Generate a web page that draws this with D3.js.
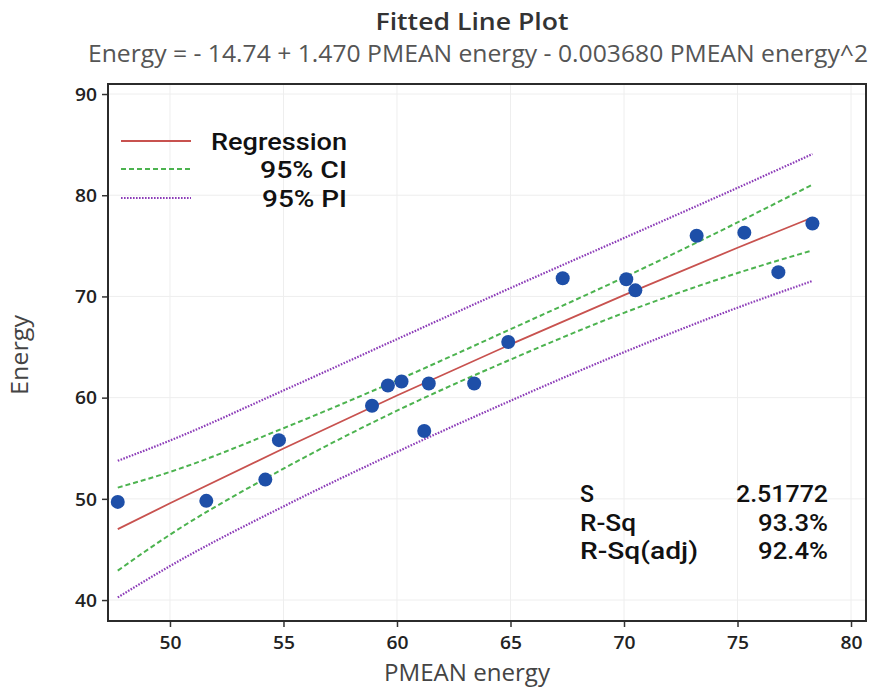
<!DOCTYPE html>
<html><head><meta charset="utf-8">
<script src="https://cdn.jsdelivr.net/npm/d3@7"></script>
<style>body{margin:0;background:#fff}svg{display:block}text{font-family:"Open Sans","Noto Sans",sans-serif}</style>
</head><body>
<svg id="c" width="879" height="690"></svg>
<script>
// Observations
const pmean  = [47.7, 51.6, 54.2, 54.8, 58.9, 59.6, 60.2, 61.2, 61.4, 63.4, 64.9, 67.3, 70.1, 70.5, 73.2, 75.3, 76.8, 78.3];
const energy = [49.7, 49.8, 51.9, 55.8, 59.2, 61.2, 61.6, 56.7, 61.4, 61.4, 65.5, 71.8, 71.7, 70.6, 76.0, 76.3, 72.4, 77.2];
// Fitted curve and bands read at these x positions
const curveX = [47.7, 50, 55, 60, 65, 70, 75, 78.3];
const fitY   = [47.01, 49.56, 54.98, 60.21, 65.26, 70.13, 74.81, 77.80];
const ciLow  = [42.91, 46.46, 52.98, 58.71, 63.76, 68.38, 72.31, 74.55];
const ciHigh = [51.11, 52.66, 56.98, 61.71, 66.76, 71.88, 77.31, 81.05];
const piLow  = [40.26, 43.36, 49.25, 54.64, 59.69, 64.49, 68.89, 71.53];
const piHigh = [53.76, 55.76, 60.71, 65.78, 70.83, 75.77, 80.73, 84.07];
const xTicks = [50, 55, 60, 65, 70, 75, 80];
const yTicks = [40, 50, 60, 70, 80, 90];
const legendLabels = ["Regression", "95% CI", "95% PI"];
const statNames  = ["S", "R-Sq", "R-Sq(adj)"];
const statValues = ["2.51772", "93.3%", "92.4%"];
const title = "Fitted Line Plot";
const subtitle = "Energy = - 14.74 + 1.470 PMEAN energy - 0.003680 PMEAN energy^2";

const svg = d3.select("#c");
const L = 108, R = 866, T = 84, B = 621;
const x = d3.scaleLinear().domain([47.27, 80.66]).range([L, R]);
const y = d3.scaleLinear().domain([37.93, 90.99]).range([B, T]);

// gridlines
svg.append("g").selectAll("line").data(xTicks).join("line")
  .attr("x1", d => x(d)).attr("x2", d => x(d)).attr("y1", T).attr("y2", B)
  .attr("stroke", "#eeeeee").attr("stroke-width", 1);
svg.append("g").selectAll("line").data(yTicks).join("line")
  .attr("y1", d => y(d)).attr("y2", d => y(d)).attr("x1", L).attr("x2", R)
  .attr("stroke", "#eeeeee").attr("stroke-width", 1);

// axes
const xAxis = svg.append("g").attr("transform", `translate(0,${B})`)
  .call(d3.axisBottom(x).tickValues(xTicks).tickSize(6).tickPadding(9));
const yAxis = svg.append("g").attr("transform", `translate(${L},0)`)
  .call(d3.axisLeft(y).tickValues(yTicks).tickSize(6).tickPadding(5));
[xAxis, yAxis].forEach(g => {
  g.select(".domain").remove();
  g.selectAll(".tick line").attr("stroke", "#333").attr("stroke-width", 1.5);
  g.selectAll(".tick text").attr("fill", "#222").style("font-size", "18px").style("font-weight", 600)
    .attr("textLength", 22).attr("lengthAdjust", "spacingAndGlyphs");
});
xAxis.selectAll(".tick text").attr("dy", "0.71em");
yAxis.selectAll(".tick text").attr("dy", "0.35em");

// frame
svg.append("rect").attr("x", L).attr("y", T).attr("width", R - L).attr("height", B - T)
  .attr("fill", "none").attr("stroke", "#2b2b2b").attr("stroke-width", 2);

const line = arr => d3.line().x((d, i) => x(curveX[i])).y(d => y(d)).curve(d3.curveMonotoneX)(arr);
const styles = {
  pi: {stroke: "#8c3cb8", dash: "1.6,1.4", width: 2.2},
  ci: {stroke: "#4cb34f", dash: "5,3", width: 2},
  fit:{stroke: "#c8524f", dash: null, width: 1.8}
};
function drawPath(arr, s) {
  svg.append("path").attr("d", line(arr)).attr("fill", "none")
    .attr("stroke", s.stroke).attr("stroke-width", s.width)
    .attr("stroke-dasharray", s.dash);
}
drawPath(piLow, styles.pi); drawPath(piHigh, styles.pi);
drawPath(ciLow, styles.ci); drawPath(ciHigh, styles.ci);
drawPath(fitY, styles.fit);

// points
svg.append("g").selectAll("circle").data(pmean).join("circle")
  .attr("cx", d => x(d)).attr("cy", (d, i) => y(energy[i])).attr("r", 7)
  .attr("fill", "#1e4fa8");

// legend
const legStyles = [styles.fit, styles.ci, styles.pi];
const legY = [141, 169, 198];
const legW = [136, 87, 85];
legendLabels.forEach((lab, i) => {
  const s = legStyles[i];
  svg.append("line").attr("x1", 121).attr("x2", 191).attr("y1", legY[i]).attr("y2", legY[i])
    .attr("stroke", s.stroke).attr("stroke-width", s.width).attr("stroke-dasharray", s.dash);
  svg.append("text").attr("x", 347).attr("y", legY[i] + 9).attr("text-anchor", "end")
    .style("font-family", "Roboto, sans-serif").style("font-size", "24px").style("font-weight", 500)
    .attr("fill", "#111").attr("textLength", legW[i]).attr("lengthAdjust", "spacingAndGlyphs").text(lab);
});

// stats
const statY = [502, 531, 559];
const nameW = [14, 56, 118];
const valW = [92, 70, 70];
statNames.forEach((n, i) => {
  svg.append("text").attr("x", 580).attr("y", statY[i])
    .style("font-family", "Roboto, sans-serif").style("font-size", "23px").style("font-weight", 500)
    .attr("fill", "#111").attr("textLength", nameW[i]).attr("lengthAdjust", "spacingAndGlyphs").text(n);
  svg.append("text").attr("x", 828).attr("y", statY[i]).attr("text-anchor", "end")
    .style("font-family", "Roboto, sans-serif").style("font-size", "23px").style("font-weight", 500)
    .attr("fill", "#111").attr("textLength", valW[i]).attr("lengthAdjust", "spacingAndGlyphs").text(statValues[i]);
});

// titles
svg.append("text").attr("x", 472).attr("y", 30).attr("text-anchor", "middle")
  .style("font-size", "24px").style("font-weight", 600).attr("fill", "#333")
  .attr("textLength", 193).attr("lengthAdjust", "spacingAndGlyphs").text(title);
svg.append("text").attr("x", 478).attr("y", 62).attr("text-anchor", "middle")
  .style("font-size", "23px").attr("fill", "#555")
  .attr("textLength", 780).attr("lengthAdjust", "spacingAndGlyphs").text(subtitle);
svg.append("text").attr("x", 467).attr("y", 681).attr("text-anchor", "middle")
  .style("font-size", "24px").attr("fill", "#444")
  .attr("textLength", 166).attr("lengthAdjust", "spacingAndGlyphs").text("PMEAN energy");
svg.append("text").attr("transform", "translate(28,355) rotate(-90)").attr("text-anchor", "middle")
  .style("font-size", "24px").attr("fill", "#444")
  .attr("textLength", 80).attr("lengthAdjust", "spacingAndGlyphs").text("Energy");
</script>
</body></html>
